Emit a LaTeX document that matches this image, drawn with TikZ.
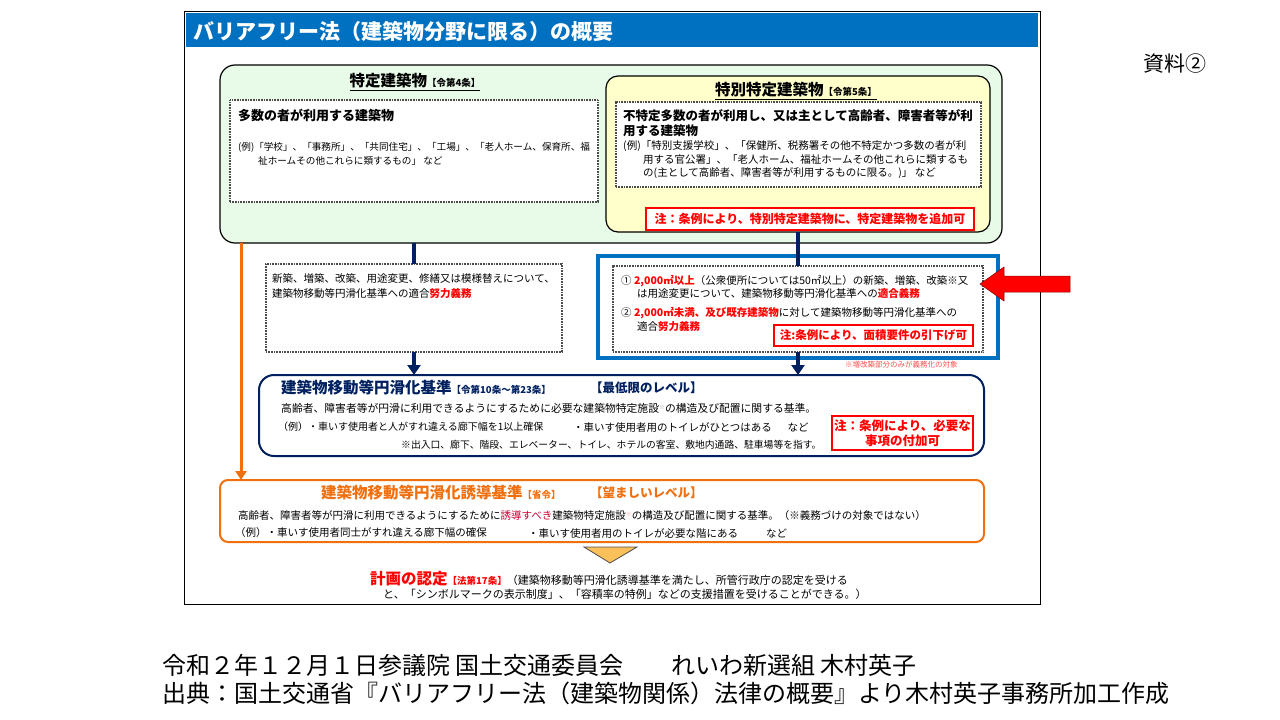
\documentclass[tikz,border=0pt]{standalone}
\usepackage{fontspec}
\setmainfont{Noto Sans CJK JP}
\usetikzlibrary{arrows.meta}

\definecolor{titleblue}{RGB}{0,112,192}
\definecolor{navy}{RGB}{0,32,96}
\definecolor{specgreen}{RGB}{232,250,232}
\definecolor{tokuyellow}{RGB}{255,255,204}
\definecolor{guideorange}{RGB}{240,112,16}
\definecolor{notered}{RGB}{255,0,0}
\definecolor{inducered}{RGB}{204,0,51}
\definecolor{triyellow}{RGB}{250,192,90}

\newcommand\fsz[1]{\fontsize{#1}{#1}\selectfont}
\newcommand\redb[1]{{\bfseries\color{notered}#1}}
\newcommand\kome[1]{{\fsz{6}\raisebox{3pt}{\color{#1}※}}}

\tikzset{
  area/.style={anchor=north west, inner sep=0pt, outer sep=0pt},
  dotbox/.style={area, draw=black!70, fill=white, line width=1.2pt, dash pattern=on 0.9pt off 0.7pt},
  notebox/.style={area, draw=notered, fill=white, line width=1.2pt, text=notered, font=\bfseries\fsz{12}},
  txt/.style={anchor=west, inner sep=0pt, font=\fsz{10.5}},
  navyarrow/.style={draw=navy, line width=4pt},
}

\begin{document}
\begin{tikzpicture}[x=1pt,y=-1pt]
		\useasboundingbox (0,0) rectangle (1280,720);
		% frame and title
		\node[area, draw=black, line width=1pt, minimum width=856pt, minimum height=593pt] (frame) at (184,11) {};
		\node[area, fill=titleblue, minimum width=852pt, minimum height=34pt] (bar) at (186,13) {};
		\node[txt, text=white, font=\bfseries\fsz{21}] (title) at (193,31) {バリアフリー法（建築物分野に限る）の概要};
		\node[txt, font=\fsz{21}] (doc) at (1143,64) {資料②};

		% specified buildings
		\node[area, draw=black, fill=specgreen, line width=1.2pt, rounded corners=15pt, minimum width=782pt, minimum height=178pt] (spec) at (220,65) {};
		\node[inner sep=0pt, font=\bfseries] (specH) at (415,82) {\underline{\fsz{15.5}特定建築物\fsz{9.5}【令第4条】}};
		\node[dotbox, minimum width=368pt, minimum height=102pt] (specD) at (230,100) {};
		\node[txt, font=\bfseries\fsz{13}] (specD1) at (238,115) {多数の者が利用する建築物};
		\node[txt, font=\fsz{9.6}] (specD2) at (238,147) {(例)「学校」、「事務所」、「共同住宅」、「工場」、「老人ホーム、保育所、福};
		\node[txt, font=\fsz{9.6}] (specD3) at (258,161) {祉ホームその他これらに類するもの」 など};

		\node[area, draw=black, fill=tokuyellow, line width=1.2pt, rounded corners=12pt, minimum width=384pt, minimum height=156pt] (toku) at (606,76) {};
		\node[inner sep=0pt, font=\bfseries] (tokuH) at (796,91) {\underline{\fsz{15.5}特別特定建築物\fsz{9.5}【令第5条】}};
		\node[dotbox, minimum width=365pt, minimum height=85pt] (tokuD) at (616,102) {};
		\node[txt, font=\bfseries\fsz{12.5}] (tokuD1) at (623,116) {不特定多数の者が利用し、又は主として高齢者、障害者等が利};
		\node[txt, font=\bfseries\fsz{12.5}] (tokuD2) at (623,131) {用する建築物};
		\node[txt] (tokuD3) at (623,146) {(例)「特別支援学校」、「保健所、税務署その他不特定かつ多数の者が利};
		\node[txt] (tokuD4) at (643,160) {用する官公署」、「老人ホーム、福祉ホームその他これらに類するも};
		\node[txt] (tokuD5) at (643,173) {の(主として高齢者、障害者等が利用するものに限る。)」 など};
		\node[notebox, minimum width=328pt, minimum height=22pt] (tokuN) at (646,208) {注：条例により、特別特定建築物に、特定建築物を追加可};

		% duties
		\node[dotbox, minimum width=296pt, minimum height=88pt] (dutyL) at (266,264) {};
		\node[txt] (dutyL1) at (272,279) {新築、増築、改築、用途変更、修繕又は模様替えについて、};
		\node[txt] (dutyL2) at (272,294) {建築物移動等円滑化基準への適合\redb{努力義務}};

		\node[area, draw=titleblue, fill=white, line width=4pt, minimum width=400pt, minimum height=102pt] (dutyB) at (598,256) {};
		\node[dotbox, minimum width=370pt, minimum height=86pt] (dutyR) at (613,266) {};
		\node[txt] (dutyR1) at (621,281) {① \redb{2,000㎡以上}（公衆便所については50㎡以上）の新築、増築、改築※又};
		\node[txt] (dutyR2) at (637,294) {は用途変更について、建築物移動等円滑化基準への\redb{適合義務}};
		\node[txt] (dutyR3) at (621,313) {② \redb{2,000㎡未満、及び既存建築物}に対して建築物移動等円滑化基準への};
		\node[txt] (dutyR4) at (637,327) {適合\redb{努力義務}};
		\node[notebox, font=\bfseries\fsz{11.5}, minimum width=199pt, minimum height=21pt] (dutyN) at (774,325) {注:条例により、面積要件の引下げ可};
		\node[txt, font=\fsz{7.5}, text=red!70] (dutyS) at (845,365) {※増改築部分のみが義務化の対象};

		% red arrow
		\fill[notered, draw=red!50!black, line width=0.5pt] (980,284) -- (1004,267) -- (1004,276) -- (1070,276) -- (1070,292) -- (1004,292) -- (1004,301) -- cycle;

		% base standard
		\node[area, draw=navy, fill=white, line width=2pt, rounded corners=15pt, minimum width=725pt, minimum height=81pt] (base) at (259,375) {};
		\node[txt, font=\bfseries, text=navy] (base1) at (281,388) {\fsz{15.5}建築物移動等円滑化基準\fsz{9.5}【令第10条～第23条】};
		\node[txt, font=\bfseries\fsz{12.5}, text=navy] (base2) at (590,388) {【最低限のレベル】};
		\node[txt, font=\fsz{10.8}] (base3) at (281,408) {高齢者、障害者等が円滑に利用できるようにするために必要な建築物特定施設\kome{black!35}の構造及び配置に関する基準。};
		\node[txt, font=\fsz{10}] (base4) at (278,427) {（例）・車いす使用者と人がすれ違える廊下幅を1以上確保};
		\node[txt, font=\fsz{10.5}] (base5) at (573,427) {・車いす使用者用のトイレがひとつはある\hspace{1.5em}など};
		\node[txt, font=\fsz{9.8}] (base6) at (401,445) {※出入口、廊下、階段、エレベーター、トイレ、ホテルの客室、敷地内通路、駐車場等を指す。};
		\node[notebox, align=center, font=\bfseries\fontsize{12.5}{15.5}\selectfont, minimum width=141pt, minimum height=34pt] (baseN) at (832,416) {注：条例により、必要な\\事項の付加可};

		% guidance standard
		\node[area, draw=guideorange, fill=white, line width=2pt, rounded corners=8pt, minimum width=764pt, minimum height=62pt] (guide) at (220,480) {};
		\node[txt, font=\bfseries, text=guideorange] (guide1) at (321,493) {\fsz{15.5}建築物移動等円滑化誘導基準\fsz{9.5}【省令】};
		\node[txt, font=\bfseries\fsz{12.5}, text=guideorange] (guide2) at (590,493) {【望ましいレベル】};
		\node[txt] (guide3) at (238,516) {高齢者、障害者等が円滑に利用できるようにするために{\color{inducered}誘導すべき}建築物特定施設\kome{red!40}の構造及び配置に関する基準。（※義務づけの対象ではない）};
		\node[txt] (guide4) at (235,533) {（例）・車いす使用者同士がすれ違える廊下幅の確保};
		\node[txt] (guide5) at (528,533) {・車いす使用者用のトイレが必要な階にある};
		\node[txt] (guide6) at (766,533) {など};

		% certification
		\filldraw[fill=triyellow, draw=black!70, line width=0.8pt] (584,547) -- (637,547) -- (610,563) -- cycle;
		\node[txt, font=\fsz{11}] (cert1) at (370,579) {\redb{\fsz{15.5}計画の認定\fsz{9.5}【法第17条】}（建築物移動等円滑化誘導基準を満たし、所管行政庁の認定を受ける};
		\node[txt, font=\fsz{11}] (cert2) at (383,594) {と、「シンボルマークの表示制度」、「容積率の特例」などの支援措置を受けることができる。）};

		% connectors
		\draw[navyarrow] (spec.south -| dutyL.north) -- (dutyL.north);
		\draw[navyarrow, -{Triangle[width=13pt,length=10pt]}] (dutyL.south) -- (dutyL.south |- base.north);
		\draw[navyarrow] (toku.south -| dutyR.north) -- (dutyR.north);
		\draw[navyarrow, -{Triangle[width=13pt,length=10pt]}] (dutyR.south) -- (dutyR.south |- base.north);
		\draw[draw=guideorange, line width=3pt, -{Triangle[width=11pt,length=9pt]}] ([xshift=21pt]spec.south west) -- ([xshift=21pt]spec.south west |- guide.north);

		% source
		\node[txt, font=\fsz{24}] (src1) at (162,665) {令和２年１２月１日参議院 国土交通委員会　　れいわ新選組 木村英子};
		\node[txt, font=\fsz{24}] (src2) at (162,693) {出典：国土交通省『バリアフリー法（建築物関係）法律の概要』より木村英子事務所加工作成};

		\end{tikzpicture}
\end{document}
